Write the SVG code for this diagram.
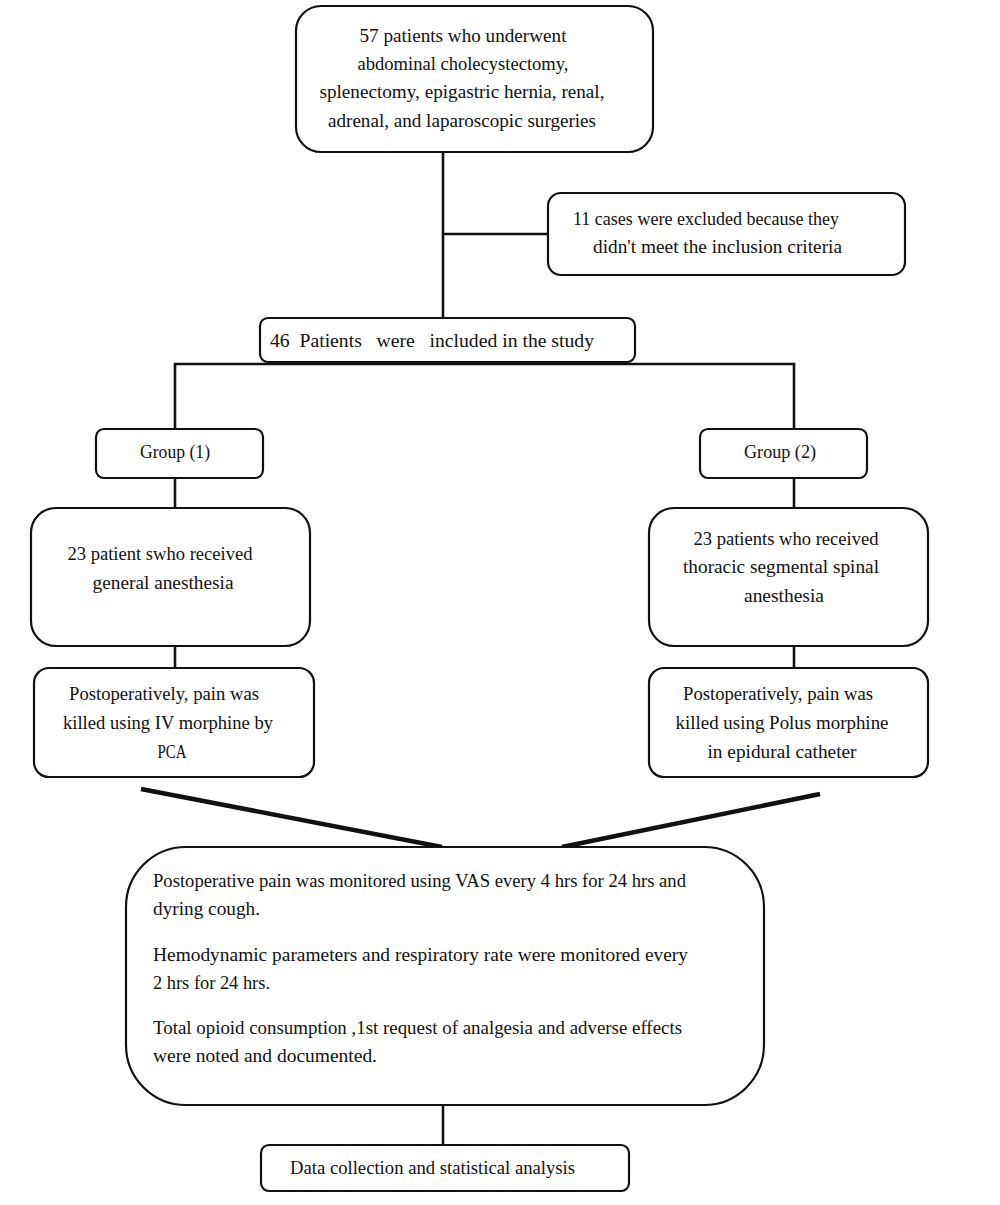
<svg xmlns="http://www.w3.org/2000/svg" width="1000" height="1205" viewBox="0 0 1000 1205">
<style>
.box{fill:#fff;stroke:#111;stroke-width:2.2}
.ln{stroke:#111;stroke-width:2.6;fill:none}
.dg{stroke:#111;stroke-width:4.5;fill:none}
text{font-family:"Liberation Serif","DejaVu Serif",serif;font-size:19px;fill:#111}
.c{text-anchor:middle}
.s{font-size:19.5px}
</style>
<rect width="1000" height="1205" fill="#fff"/>
<g id="connectors">
<line class="ln" x1="443" y1="152" x2="443" y2="318"/>
<line class="ln" x1="443" y1="234" x2="548" y2="234"/>
<polyline class="ln" points="175,429 175,364 794,364 794,429"/>
<line class="ln" x1="175" y1="478" x2="175" y2="508"/>
<line class="ln" x1="794" y1="478" x2="794" y2="508"/>
<line class="ln" x1="175" y1="646" x2="175" y2="668"/>
<line class="ln" x1="794" y1="646" x2="794" y2="668"/>
<line class="dg" x1="141" y1="789" x2="442" y2="847"/>
<line class="dg" x1="562" y1="847" x2="820" y2="794"/>
<line class="ln" x1="443" y1="1105" x2="443" y2="1145"/>
</g>
<g id="n1">
<rect class="box" x="296" y="6" width="357" height="146" rx="25"/>
<text class="c" x="463" y="42" textLength="207" lengthAdjust="spacingAndGlyphs">57 patients who underwent</text>
<text class="c" x="463" y="70" textLength="211" lengthAdjust="spacingAndGlyphs">abdominal cholecystectomy,</text>
<text class="c" x="462" y="98" textLength="285" lengthAdjust="spacingAndGlyphs">splenectomy, epigastric hernia, renal,</text>
<text class="c" x="462" y="127" textLength="268" lengthAdjust="spacingAndGlyphs">adrenal, and laparoscopic surgeries</text>
</g>
<g id="n2">
<rect class="box" x="548" y="193" width="357" height="82" rx="13"/>
<text x="573" y="225" textLength="266" lengthAdjust="spacingAndGlyphs">11 cases were excluded because they</text>
<text x="593" y="253" textLength="249" lengthAdjust="spacingAndGlyphs">didn't meet the inclusion criteria</text>
</g>
<g id="n3">
<rect class="box" x="260" y="318" width="375" height="44" rx="8"/>
<text x="270" y="347" xml:space="preserve" textLength="324" lengthAdjust="spacingAndGlyphs">46  Patients   were   included in the study</text>
</g>
<g id="n4">
<rect class="box" x="96" y="429" width="167" height="49" rx="8"/>
<text class="c" x="175" y="458" textLength="70" lengthAdjust="spacingAndGlyphs">Group (1)</text>
</g>
<g id="n5">
<rect class="box" x="700" y="429" width="167" height="49" rx="8"/>
<text class="c" x="780" y="458" textLength="72" lengthAdjust="spacingAndGlyphs">Group (2)</text>
</g>
<g id="n6">
<rect class="box" x="31" y="508" width="279" height="138" rx="25"/>
<text class="c" x="160" y="560" textLength="185" lengthAdjust="spacingAndGlyphs">23 patient swho received</text>
<text class="c" x="163" y="589" textLength="141" lengthAdjust="spacingAndGlyphs">general anesthesia</text>
</g>
<g id="n7">
<rect class="box" x="649" y="508" width="279" height="138" rx="25"/>
<text class="c" x="786" y="545" textLength="185" lengthAdjust="spacingAndGlyphs">23 patients who received</text>
<text class="c" x="781" y="573" textLength="196" lengthAdjust="spacingAndGlyphs">thoracic segmental spinal</text>
<text class="c" x="784" y="602" textLength="80" lengthAdjust="spacingAndGlyphs">anesthesia</text>
</g>
<g id="n8">
<rect class="box" x="34" y="668" width="280" height="109" rx="15"/>
<text class="c" x="164" y="700" textLength="190" lengthAdjust="spacingAndGlyphs">Postoperatively, pain was</text>
<text class="c" x="168" y="729" textLength="210" lengthAdjust="spacingAndGlyphs">killed using IV morphine by</text>
<text class="c" x="172" y="758" textLength="29" lengthAdjust="spacingAndGlyphs">PCA</text>
</g>
<g id="n9">
<rect class="box" x="649" y="668" width="279" height="109" rx="15"/>
<text class="c" x="778" y="700" textLength="190" lengthAdjust="spacingAndGlyphs">Postoperatively, pain was</text>
<text class="c" x="782" y="729" textLength="213" lengthAdjust="spacingAndGlyphs">killed using Polus morphine</text>
<text class="c" x="782" y="758" textLength="149" lengthAdjust="spacingAndGlyphs">in epidural catheter</text>
</g>
<g id="n10">
<rect class="box" x="126" y="847" width="638" height="258" rx="60"/>
<text class="s" x="153" y="887" textLength="533" lengthAdjust="spacingAndGlyphs">Postoperative pain was monitored using VAS every 4 hrs for 24 hrs and</text>
<text class="s" x="153" y="915" textLength="107" lengthAdjust="spacingAndGlyphs">dyring cough.</text>
<text class="s" x="153" y="961" textLength="535" lengthAdjust="spacingAndGlyphs">Hemodynamic parameters and respiratory rate were monitored every</text>
<text class="s" x="153" y="989" textLength="117" lengthAdjust="spacingAndGlyphs">2 hrs for 24 hrs.</text>
<text class="s" x="153" y="1034" textLength="529" lengthAdjust="spacingAndGlyphs">Total opioid consumption ,1st request of analgesia and adverse effects</text>
<text class="s" x="153" y="1062" textLength="224" lengthAdjust="spacingAndGlyphs">were noted and documented.</text>
</g>
<g id="n11">
<rect class="box" x="261" y="1145" width="368" height="46" rx="8"/>
<text x="290" y="1174" textLength="285" lengthAdjust="spacingAndGlyphs">Data collection and statistical analysis</text>
</g>
</svg>
